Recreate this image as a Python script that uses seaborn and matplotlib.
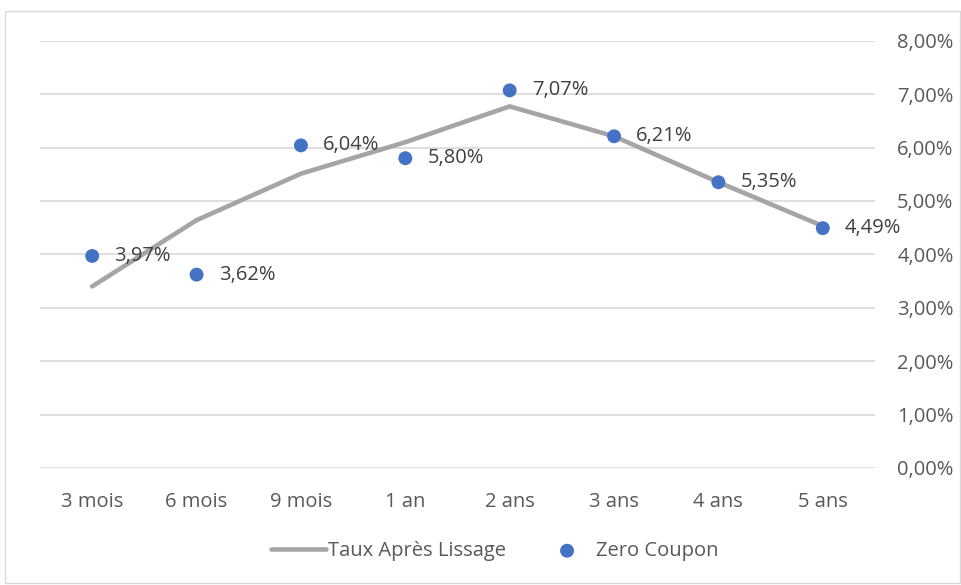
import matplotlib
matplotlib.use("Agg")
import matplotlib.pyplot as plt
import seaborn as sns
import pandas as pd
from matplotlib.patches import Rectangle
from matplotlib.ticker import FuncFormatter

categories = ["3 mois", "6 mois", "9 mois", "1 an", "2 ans", "3 ans", "4 ans", "5 ans"]
taux_lissage = [3.40, 4.64, 5.51, 6.10, 6.77, 6.21, 5.35, 4.53]
zero_coupon = [3.97, 3.62, 6.04, 5.80, 7.07, 6.21, 5.35, 4.49]
zc_labels = ["3,97%", "3,62%", "6,04%", "5,80%", "7,07%", "6,21%", "5,35%", "4,49%"]

sns.set_theme(style="white")
plt.rcParams['font.family'] = ['Open Sans', 'DejaVu Sans']

df = pd.DataFrame({"x": range(len(categories)), "lissage": taux_lissage, "zc": zero_coupon})

FS = 14.5

fig = plt.figure(figsize=(9.62, 5.85), dpi=100)
ax = fig.add_axes([40/962, 1-468/585, 835/962, (468-40.7)/585])

sns.lineplot(data=df, x="x", y="lissage", ax=ax, color="#A5A5A5", linewidth=3.3,
             label="Taux Après Lissage", zorder=2)
sns.scatterplot(data=df, x="x", y="zc", ax=ax, color="#4472C4", s=100, edgecolor="none",
                label="Zero Coupon", zorder=3)

for i, (v, t) in enumerate(zip(zero_coupon, zc_labels)):
    ax.annotate(t, (i, v), xytext=(16, 0), textcoords="offset points", ha="left", va="center",
                fontsize=FS, color="#404040", zorder=4)

ax.set_xlim(-0.5, 7.5)
ax.set_ylim(0, 8)
ax.set_xticks(range(len(categories)))
ax.set_xticklabels(categories)
ax.set_yticks([0, 1, 2, 3, 4, 5, 6, 7, 8])
ax.yaxis.set_major_formatter(FuncFormatter(lambda v, p: f"{v:.2f}%".replace(".", ",")))
ax.yaxis.tick_right()
ax.tick_params(axis="y", length=0, pad=16, labelsize=FS, colors="#595959")
ax.tick_params(axis="x", length=0, pad=17, labelsize=FS, colors="#595959")
ax.grid(axis="y", color="#D9D9D9", linewidth=1.2)
ax.set_axisbelow(True)
for s in ax.spines.values():
    s.set_visible(False)
ax.set_xlabel("")
ax.set_ylabel("")

leg = ax.legend(loc="center", bbox_to_anchor=(495/962, 1-551/585), bbox_transform=fig.transFigure,
                ncol=2, frameon=False, fontsize=FS, handlelength=2.7, handletextpad=0.1,
                columnspacing=1.7)
for t in leg.get_texts():
    t.set_color("#595959")

fig.patches.append(Rectangle((5/962, 1-583/585), 955/962, (583-11)/585, transform=fig.transFigure,
                             fill=False, edgecolor="#D9D9D9", linewidth=1))

fig.savefig("out.png", dpi=100, facecolor="white")
